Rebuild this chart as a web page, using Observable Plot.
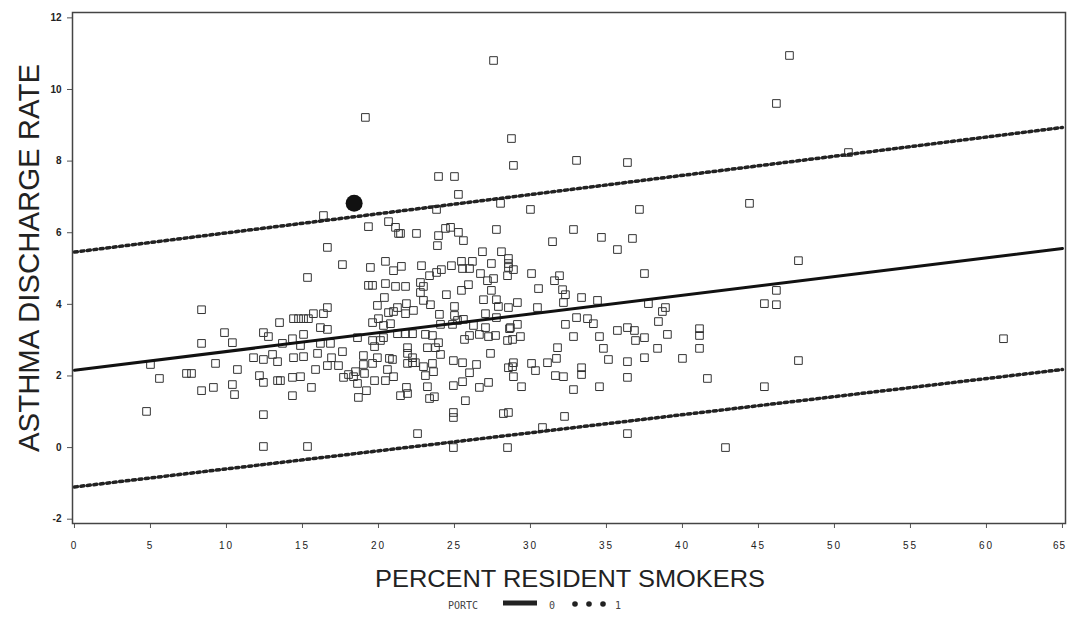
<!DOCTYPE html>
<html><head><meta charset="utf-8">
<script src="https://cdn.jsdelivr.net/npm/d3@7"></script>
<script src="https://cdn.jsdelivr.net/npm/@observablehq/plot@0.6"></script>
<style>
body{margin:0;background:#fff;font-family:"Liberation Sans",Arial,sans-serif}
#chart svg{display:block}
</style>
</head><body><div id="chart"></div><div id="legend"></div><script>
// Percent resident smokers (x) and asthma discharge rate (y)
const smokers = [47.04,27.57,46.18,19.14,28.75,50.92,28.88,33.03,36.38,23.95,25.0,25.26,28.03,30.0,37.17,44.41,23.82,
16.38,19.34,20.66,21.12,21.32,16.64,17.63,19.47,20.46,20.99,15.33,19.34,19.61,20.46,21.12,20.39,19.93,20.66,20.99,8.36,
13.49,14.41,14.74,15.07,15.39,15.72,16.38,16.64,16.18,16.64,19.61,20.0,20.33,20.79,9.87,12.43,12.76,15.07,14.34,13.68,
8.36,10.39,18.62,19.61,20.13,20.33,16.18,16.84,19.74,14.87,
5.0,9.28,10.72,11.78,12.43,13.03,13.36,14.41,15.07,15.99,16.91,17.63,19.01,19.93,20.72,20.92,19.01,19.61,20.59,16.64,
17.37,15.86,5.59,7.37,7.70,12.17,12.43,13.36,13.55,14.34,14.87,17.70,18.03,18.49,19.08,18.36,18.62,19.74,20.46,20.99,
8.36,9.14,10.39,10.53,14.34,15.59,19.21,18.68,4.74,12.43,12.43,15.33,
21.45,22.5,23.95,24.41,24.74,25.26,25.59,23.88,27.76,32.83,34.67,36.71,31.45,35.72,26.84,28.09,25.46,26.18,24.80,25.53,
25.99,27.43,28.55,28.55,28.55,28.88,28.49,22.83,21.51,23.36,23.82,24.14,26.71,27.17,27.57,30.07,31.91,31.58,37.5,21.78,
22.76,22.96,22.76,25.92,25.46,27.43,30.53,32.11,32.30,24.47,22.96,23.42,21.25,21.84,21.78,22.30,25.0,26.91,27.76,27.89,
28.55,29.14,30.46,32.17,33.36,34.41,37.76,38.88,38.68,24.01,25.0,25.20,25.59,27.04,27.76,38.42,24.08,24.87,26.25,27.04,
28.68,29.14,32.30,33.03,33.75,34.14,21.25,21.78,22.24,23.09,23.55,23.95,25.66,25.99,26.64,27.24,27.70,28.62,28.49,28.82,
29.34,32.83,34.54,35.72,36.38,36.84,36.91,37.5,39.01,41.12,41.12,21.91,23.22,23.75,31.78,34.80,38.36,41.12,
21.91,22.24,21.91,22.24,22.43,22.96,24.08,23.55,23.62,23.09,23.22,21.84,21.91,21.45,23.36,23.68,24.93,25.53,26.45,25.99,
24.93,25.53,26.64,27.24,25.72,27.37,28.55,28.88,28.82,28.88,29.41,30.07,30.33,31.12,31.71,31.64,32.17,32.83,33.36,33.36,
34.54,35.13,36.38,36.38,37.5,40.0,41.64,24.93,24.93,28.22,28.55,32.24,22.57,30.79,36.38,24.93,28.49,
47.63,46.18,45.39,46.18,61.12,47.63,45.39,42.83];
const rates = [10.95,10.81,9.61,9.22,8.63,8.24,7.88,8.02,7.96,7.57,7.57,7.07,6.82,6.65,6.65,6.82,6.65,
6.48,6.17,6.31,6.15,5.98,5.59,5.11,5.03,5.20,4.94,4.75,4.53,4.53,4.58,4.50,4.19,3.97,3.77,3.80,3.85,
3.49,3.60,3.60,3.60,3.60,3.74,3.74,3.91,3.35,3.30,3.49,3.60,3.41,3.46,3.21,3.21,3.10,3.16,3.04,2.91,
2.91,2.93,3.07,2.99,2.99,3.07,2.91,2.91,2.82,2.85,
2.32,2.35,2.18,2.51,2.46,2.60,2.40,2.51,2.54,2.63,2.51,2.68,2.57,2.51,2.49,2.46,2.32,2.35,2.18,2.29,
2.29,2.18,1.93,2.07,2.07,2.01,1.82,1.87,1.87,1.96,1.98,1.96,2.04,2.12,2.07,1.98,1.79,1.87,1.87,1.98,
1.59,1.68,1.76,1.48,1.45,1.68,1.59,1.40,1.01,0.92,0.03,0.03,
5.98,5.98,5.92,6.12,6.15,6.01,5.78,5.64,6.09,6.09,5.87,5.84,5.75,5.53,5.47,5.47,5.20,5.20,5.08,5.00,
5.00,5.14,5.28,5.14,5.03,4.97,4.80,5.08,5.06,4.80,4.89,4.97,4.86,4.66,4.72,4.86,4.80,4.66,4.86,4.50,
4.61,4.50,4.33,4.55,4.39,4.39,4.44,4.41,4.27,4.27,4.11,3.99,3.91,4.02,3.74,3.83,3.94,4.13,4.13,3.94,
3.91,4.05,3.91,4.05,4.19,4.11,4.02,3.91,3.80,3.72,3.69,3.55,3.58,3.74,3.63,3.52,3.44,3.44,3.41,3.35,
3.35,3.44,3.44,3.63,3.60,3.46,3.18,3.18,3.18,3.16,3.13,2.93,3.02,3.13,3.16,3.10,3.13,3.32,2.99,3.02,
3.10,3.10,3.10,3.27,3.35,3.27,2.99,3.07,3.16,3.32,3.13,2.79,2.79,2.79,2.79,2.77,2.77,2.77,
2.63,2.51,2.35,2.37,2.37,2.26,2.60,2.35,2.12,2.01,1.70,1.68,1.51,1.45,1.37,1.42,2.43,2.37,2.32,2.09,
1.73,1.84,1.68,1.82,1.31,2.63,2.23,2.37,2.26,1.98,1.70,2.35,2.15,2.37,2.49,2.01,1.98,1.62,2.23,2.04,
1.70,2.46,2.40,1.96,2.51,2.49,1.93,0.98,0.84,0.95,0.98,0.87,0.39,0.56,0.39,0.00,0.00,
5.22,4.39,4.02,3.99,3.04,2.43,1.70,0.00];
// highlighted observation
const highlightX = [18.4];
const highlightY = [6.82];
// regression line and prediction limits (endpoints)
const lineX = [0, 65];
const fitY = [2.16, 5.56];
const upperY = [5.46, 8.94];
const lowerY = [-1.10, 2.18];
// ticks
const xTicks = [0,5,10,15,20,25,30,35,40,45,50,55,60,65];
const yTicks = [-2,0,2,4,6,8,10,12];
const xLabel = "PERCENT RESIDENT SMOKERS";
const yLabel = "ASTHMA DISCHARGE RATE";
const legendTitle = "PORTC";
const legendLabels = ["0","1"];

const pts = smokers.map((x,i)=>({x, y: rates[i]}));
const fit = lineX.map((x,i)=>({x, fit: fitY[i], up: upperY[i], lo: lowerY[i]}));
const hl = highlightX.map((x,i)=>({x, y: highlightY[i]}));

const plot = Plot.plot({
  width: 1067, height: 592,
  marginTop: 12, marginLeft: 72, marginRight: 2, marginBottom: 69,
  x: {domain: [-0.13, 65.2]},
  y: {domain: [-2.12, 12.15]},
  style: {background: "#fff", color: "#222", fontFamily: "'Liberation Sans', Arial, sans-serif"},
  marks: [
    Plot.axisX({ticks: xTicks, tickSize: 5, tickPadding: 13, fontSize: 10, label: null, tickFormat: d => String(d), stroke: "#555"}),
    Plot.axisY({ticks: yTicks, tickSize: 5, tickPadding: 6, fontSize: 10, fontWeight: "bold", label: null, tickFormat: d => String(d), stroke: "#555"}),
    Plot.dot(pts, {x: "x", y: "y", symbol: "square", r: 4.3, stroke: "#333", strokeWidth: 1, fill: "none"}),
    Plot.line(fit, {x: "x", y: "fit", stroke: "#111", strokeWidth: 3}),
    Plot.line(fit, {x: "x", y: "up", stroke: "#222", strokeWidth: 3.5, strokeDasharray: "3 3.5"}),
    Plot.line(fit, {x: "x", y: "lo", stroke: "#222", strokeWidth: 3.5, strokeDasharray: "3 3.5"}),
    Plot.dot(hl, {x: "x", y: "y", r: 8.5, fill: "#111", stroke: "none"}),
    Plot.frame({stroke: "#444", strokeWidth: 1.5})
  ]
});
document.getElementById("chart").appendChild(plot);
const svg = d3.select(plot);
svg.selectAll('[aria-label="x-axis tick label"] text')
  .attr("letter-spacing", (d, i, n) => i === n.length - 1 ? "1" : "2")
  .attr("dx", (d, i, n) => i === n.length - 1 ? -3 : 0);
svg.append("text")
  .attr("transform", "translate(39,258) rotate(-90)")
  .attr("text-anchor", "middle")
  .attr("font-size", 29)
  .attr("fill", "#222")
  .attr("textLength", 388).attr("lengthAdjust", "spacingAndGlyphs")
  .text(yLabel);
svg.append("text")
  .attr("x", 570).attr("y", 587)
  .attr("text-anchor", "middle")
  .attr("font-size", 24)
  .attr("fill", "#222")
  .attr("textLength", 390).attr("lengthAdjust", "spacingAndGlyphs")
  .text(xLabel);

// legend below the plot
const lg = d3.select("#legend").append("svg").attr("width", 1067).attr("height", 30)
  .style("display", "block").attr("font-family", "'DejaVu Sans Mono', monospace");
lg.append("text").attr("x", 448).attr("y", 17).attr("font-size", 10).attr("fill", "#444").text(legendTitle);
lg.append("line").attr("x1", 503).attr("x2", 537).attr("y1", 11).attr("y2", 11).attr("stroke", "#222").attr("stroke-width", 5);
lg.append("text").attr("x", 549).attr("y", 17).attr("font-size", 10).attr("fill", "#444").text(legendLabels[0]);
[575, 589, 603].forEach(cx => lg.append("circle").attr("cx", cx).attr("cy", 12).attr("r", 2.8).attr("fill", "#222"));
lg.append("text").attr("x", 615).attr("y", 17).attr("font-size", 10).attr("fill", "#444").text(legendLabels[1]);
</script></body></html>
